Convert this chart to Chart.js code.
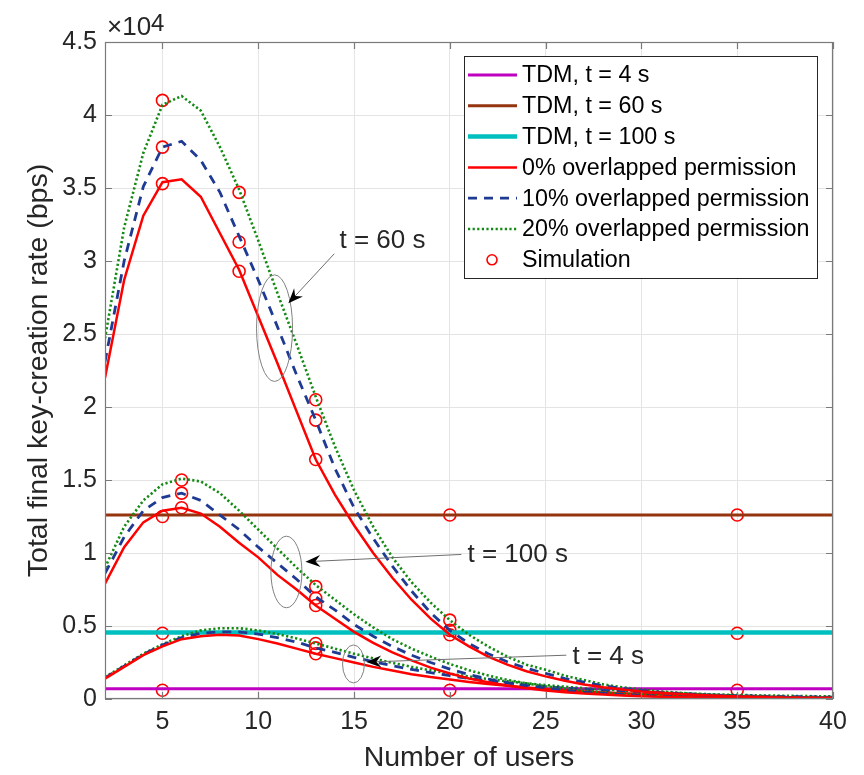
<!DOCTYPE html>
<html><head><meta charset="utf-8">
<script src="https://cdn.jsdelivr.net/npm/chart.js@4.4.1/dist/chart.umd.min.js"></script>
<style>html,body{margin:0;padding:0;background:#fff}</style>
</head><body>
<canvas id="c" width="864" height="775" style="width:864px;height:775px;display:block"></canvas>
<script>
// ---------- data (values in units of 10^4 bps) ----------
const users = [2,3,4,5,6,7,8,9,10,11,12,13,14,15,16,17,18,19,20,21,22,23,24,25,26,27,28,29,30,31,32,33,34,35,36,37,38,39,40];

// t = 60 s
const t60_0  = [2.20,2.87,3.31,3.54,3.56,3.44,3.19,2.94,2.62,2.30,1.97,1.64,1.40,1.19,1.00,0.83,0.68,0.55,0.44,0.36,0.29,0.235,0.19,0.155,0.125,0.10,0.08,0.065,0.052,0.042,0.034,0.027,0.022,0.017,0.014,0.011,0.009,0.007,0.005];
const t60_10 = [2.31,3.00,3.51,3.78,3.82,3.69,3.47,3.17,2.87,2.55,2.22,1.91,1.58,1.31,1.10,0.91,0.74,0.59,0.47,0.38,0.31,0.255,0.21,0.175,0.14,0.115,0.09,0.072,0.058,0.046,0.037,0.030,0.024,0.019,0.015,0.012,0.010,0.008,0.006];
const t60_20 = [2.47,3.23,3.74,4.07,4.13,4.03,3.78,3.49,3.14,2.78,2.43,2.07,1.73,1.43,1.18,0.97,0.80,0.66,0.54,0.44,0.36,0.29,0.235,0.20,0.16,0.13,0.10,0.08,0.065,0.052,0.042,0.034,0.027,0.022,0.017,0.014,0.011,0.009,0.007];
// t = 100 s
const t100_0  = [0.79,1.04,1.21,1.29,1.31,1.27,1.18,1.07,0.97,0.85,0.75,0.64,0.55,0.46,0.385,0.32,0.265,0.215,0.175,0.14,0.115,0.092,0.074,0.059,0.047,0.037,0.030,0.024,0.019,0.015,0.012,0.010,0.008,0.006,0.005,0.004,0.003,0.003,0.002];
const t100_10 = [0.86,1.11,1.29,1.38,1.41,1.36,1.26,1.16,1.04,0.93,0.82,0.70,0.61,0.51,0.43,0.36,0.30,0.25,0.205,0.168,0.137,0.11,0.09,0.073,0.059,0.047,0.038,0.030,0.024,0.019,0.015,0.012,0.010,0.008,0.006,0.005,0.004,0.003,0.003];
const t100_20 = [0.90,1.18,1.36,1.47,1.51,1.49,1.41,1.29,1.16,1.03,0.90,0.78,0.68,0.58,0.49,0.41,0.345,0.29,0.24,0.197,0.161,0.131,0.107,0.087,0.070,0.057,0.046,0.037,0.030,0.024,0.019,0.015,0.012,0.010,0.008,0.006,0.005,0.004,0.004];
// t = 4 s
const t4_0  = [0.14,0.22,0.30,0.36,0.41,0.43,0.44,0.435,0.41,0.38,0.345,0.31,0.28,0.25,0.22,0.195,0.17,0.15,0.133,0.117,0.103,0.09,0.079,0.069,0.06,0.052,0.045,0.039,0.034,0.03,0.026,0.022,0.019,0.017,0.015,0.013,0.011,0.01,0.009];
const t4_10 = [0.145,0.225,0.305,0.37,0.42,0.45,0.46,0.46,0.445,0.42,0.39,0.35,0.32,0.285,0.255,0.228,0.203,0.18,0.16,0.141,0.125,0.11,0.097,0.085,0.075,0.066,0.058,0.051,0.045,0.039,0.034,0.030,0.026,0.023,0.020,0.018,0.016,0.014,0.012];
const t4_20 = [0.15,0.23,0.31,0.375,0.43,0.47,0.485,0.485,0.47,0.445,0.415,0.38,0.345,0.31,0.278,0.248,0.22,0.196,0.174,0.154,0.137,0.121,0.107,0.095,0.084,0.074,0.066,0.058,0.051,0.045,0.040,0.035,0.031,0.028,0.025,0.023,0.021,0.019,0.018];

// TDM (constant) levels
const tdmUsers = [2,40];
const tdm4   = [0.07,0.07];
const tdm60  = [1.26,1.26];
const tdm100 = [0.455,0.455];

// Simulation points
const simX = [5,5,5,5,5,5, 6,6,6, 9,9,9, 13,13,13,13,13,13,13,13,13, 20,20,20,20,20, 35,35,35];
const simY = [4.10,3.78,3.53,1.25,0.45,0.06, 1.50,1.41,1.31, 3.47,3.13,2.93, 2.05,1.91,1.64,0.77,0.69,0.64,0.38,0.35,0.31, 1.26,0.54,0.47,0.44,0.06, 1.26,0.45,0.06];

const xTickValues = [5,10,15,20,25,30,35,40];
const yTickValues = [0,0.5,1,1.5,2,2.5,3,3.5,4,4.5];
const legendLabels = ['TDM, t = 4 s','TDM, t = 60 s','TDM, t = 100 s','0% overlapped permission','10% overlapped permission','20% overlapped permission','Simulation'];

// ---------- styles ----------
const RED='#ff0000', BLUE='#1f3a93', GREEN='#138a13', MAG='#c000c0', BROWN='#943510', CYAN='#00bfbf';
const FONT='"Liberation Sans", Arial, Helvetica, sans-serif';
const TXT='#262626';

function pts(xs, ys){ return xs.map((u,i)=>({x:u,y:ys[i]})); }
function curve(data, kind){
  const s = {data, pointRadius:0, fill:false, tension:0, borderCapStyle:'butt'};
  if(kind===0){ s.borderColor=RED; s.borderWidth=2.5; }
  if(kind===1){ s.borderColor=BLUE; s.borderWidth=2.8; s.borderDash=[9,7]; }
  if(kind===2){ s.borderColor=GREEN; s.borderWidth=2.6; s.borderDash=[2.2,2.4]; }
  return s;
}
const datasets = [
  curve(pts(users,t60_0),0), curve(pts(users,t60_10),1), curve(pts(users,t60_20),2),
  curve(pts(users,t100_0),0), curve(pts(users,t100_10),1), curve(pts(users,t100_20),2),
  curve(pts(users,t4_0),0), curve(pts(users,t4_10),1), curve(pts(users,t4_20),2),
  {data:pts(tdmUsers,tdm4), borderColor:MAG, borderWidth:3, pointRadius:0},
  {data:pts(tdmUsers,tdm60), borderColor:BROWN, borderWidth:3, pointRadius:0},
  {data:pts(tdmUsers,tdm100), borderColor:CYAN, borderWidth:4.5, pointRadius:0},
  {data:pts(simX,simY), showLine:false, pointStyle:'circle', pointRadius:6, pointBorderColor:RED, pointBackgroundColor:'rgba(0,0,0,0)', pointBorderWidth:1.6, borderColor:RED}
];

// annotation positions (data coordinates)
const notes = [
  {label:'t = 60 s',  ex:10.85, ey:2.54, rx:0.94, ry:0.365, ax0:13.97, ay0:3.05, ax1:11.57, ay1:2.71, tx:14.24, ty:3.14},
  {label:'t = 100 s', ex:11.47, ey:0.87, rx:0.81, ry:0.245, ax0:20.6,  ay0:0.99, ax1:12.46, ay1:0.94, tx:20.92, ty:0.985},
  {label:'t = 4 s',   ex:14.97, ey:0.24, rx:0.57, ry:0.13,  ax0:26.08, ay0:0.30, ax1:15.64, ay1:0.253, tx:26.4, ty:0.288}
];

const deco = {
  id:'deco',
  afterDatasetsDraw(chart){
    const {ctx, chartArea:a, scales:{x,y}} = chart;
    ctx.save();
    ctx.strokeStyle='#7a7a7a'; ctx.lineWidth=1.2;
    ctx.strokeRect(a.left+0.5, a.top+0.5, a.right-a.left-1, a.bottom-a.top-1);
    const L=7;
    ctx.beginPath();
    xTickValues.forEach(v=>{const p=Math.round(x.getPixelForValue(v))+0.5;
      ctx.moveTo(p,a.bottom); ctx.lineTo(p,a.bottom-L); ctx.moveTo(p,a.top); ctx.lineTo(p,a.top+L);});
    yTickValues.forEach(v=>{const p=Math.round(y.getPixelForValue(v))+0.5;
      ctx.moveTo(a.left,p); ctx.lineTo(a.left+L,p); ctx.moveTo(a.right,p); ctx.lineTo(a.right-L,p);});
    ctx.stroke();
    ctx.restore();
  },
  afterDraw(chart){
    const {ctx, chartArea:a, scales:{x,y}} = chart;
    ctx.save();
    // annotations
    notes.forEach(n=>{
      const cx=x.getPixelForValue(n.ex), cy=y.getPixelForValue(n.ey);
      const rx=Math.abs(x.getPixelForValue(n.ex+n.rx)-cx), ry=Math.abs(y.getPixelForValue(n.ey+n.ry)-cy);
      ctx.strokeStyle='#808080'; ctx.lineWidth=1;
      ctx.beginPath(); ctx.ellipse(cx,cy,rx,ry,0,0,Math.PI*2); ctx.stroke();
      const x0=x.getPixelForValue(n.ax0), y0=y.getPixelForValue(n.ay0);
      const x1=x.getPixelForValue(n.ax1), y1=y.getPixelForValue(n.ay1);
      const ang=Math.atan2(y1-y0,x1-x0);
      ctx.strokeStyle='#6e6e6e'; ctx.lineWidth=1;
      ctx.beginPath(); ctx.moveTo(x0,y0); ctx.lineTo(x1-Math.cos(ang)*8,y1-Math.sin(ang)*8); ctx.stroke();
      ctx.fillStyle='#000';
      ctx.translate(x1,y1); ctx.rotate(ang);
      ctx.beginPath(); ctx.moveTo(0,0); ctx.lineTo(-15,-6); ctx.lineTo(-10,0); ctx.lineTo(-15,6); ctx.closePath(); ctx.fill();
      ctx.setTransform(1,0,0,1,0,0);
      ctx.fillStyle=TXT; ctx.font='26px '+FONT; ctx.textBaseline='middle'; ctx.textAlign='left';
      ctx.fillText(n.label, x.getPixelForValue(n.tx), y.getPixelForValue(n.ty));
    });
    // exponent label
    ctx.fillStyle=TXT; ctx.textBaseline='alphabetic'; ctx.textAlign='left';
    ctx.font='26px '+FONT; ctx.fillText('\u00d710', a.left+2, 35);
    const w=ctx.measureText('\u00d710').width;
    ctx.font='24px '+FONT; ctx.fillText('4', a.left+2+w, 31);
    // legend
    const bx=464, by=56, bw=353, bh=222;
    ctx.fillStyle='#fff'; ctx.fillRect(bx,by,bw,bh);
    ctx.strokeStyle='#262626'; ctx.lineWidth=1; ctx.strokeRect(bx+0.5,by+0.5,bw,bh);
    const styles=[
      {c:MAG,w:3},{c:BROWN,w:3},{c:CYAN,w:4.5},{c:RED,w:2.5},{c:BLUE,w:2.8,d:[9,7]},{c:GREEN,w:2.6,d:[2.2,2.4]},{pt:true}
    ];
    ctx.font='23.3px '+FONT; ctx.textBaseline='middle';
    legendLabels.forEach((lab,i)=>{
      const ry=75+i*30.8;
      const s=styles[i];
      if(s.pt){ ctx.strokeStyle=RED; ctx.lineWidth=1.6; ctx.beginPath(); ctx.arc(492,ry,5,0,Math.PI*2); ctx.stroke(); }
      else { ctx.strokeStyle=s.c; ctx.lineWidth=s.w; ctx.setLineDash(s.d||[]); ctx.beginPath(); ctx.moveTo(468,ry); ctx.lineTo(517,ry); ctx.stroke(); ctx.setLineDash([]); }
      ctx.fillStyle='#000'; ctx.fillText(lab, 522, ry+1);
    });
    ctx.restore();
  }
};

new Chart(document.getElementById('c'), {
  type:'line',
  data:{datasets},
  plugins:[deco],
  options:{
    responsive:false, animation:false, devicePixelRatio:1,
    layout:{padding:{left:0,right:31,top:42,bottom:0}},
    plugins:{legend:{display:false}, tooltip:{enabled:false}},
    elements:{line:{tension:0}},
    scales:{
      x:{type:'linear', min:2, max:40,
        afterBuildTicks:s=>{s.ticks=xTickValues.map(v=>({value:v}));},
        afterFit:s=>{s.height=76;},
        grid:{color:'#e4e4e4', lineWidth:1, drawTicks:false}, border:{display:false},
        ticks:{color:TXT, font:{family:FONT,size:25}, padding:8, maxRotation:0, callback:v=>String(v)},
        title:{display:true, text:'Number of users', color:TXT, font:{family:FONT,size:28.5}, padding:{top:0,bottom:0}}
      },
      y:{type:'linear', min:0, max:4.5,
        afterBuildTicks:s=>{s.ticks=yTickValues.map(v=>({value:v}));},
        afterFit:s=>{s.width=105;},
        grid:{color:'#e4e4e4', lineWidth:1, drawTicks:false}, border:{display:false},
        ticks:{color:TXT, font:{family:FONT,size:25}, padding:8, callback:v=>String(v)},
        title:{display:true, text:'Total final key-creation rate (bps)', color:TXT, font:{family:FONT,size:28.5}, padding:{top:22,bottom:0}}
      }
    }
  }
});
</script>
</body></html>
